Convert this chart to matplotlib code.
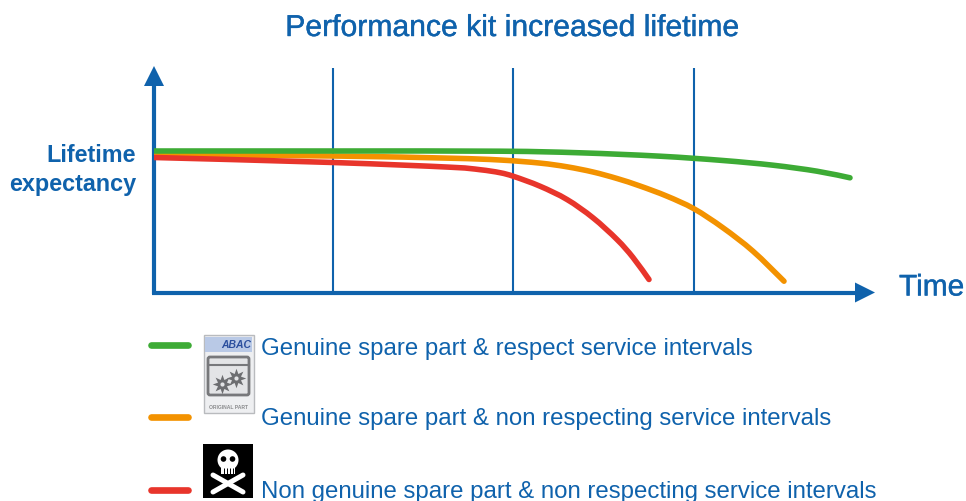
import numpy as np
import matplotlib.pyplot as plt
import matplotlib.patheffects as pe
from matplotlib.patches import Rectangle, Circle, FancyBboxPatch, PathPatch, Polygon
from matplotlib.path import Path

plt.rcParams['font.family'] = ['Liberation Sans', 'DejaVu Sans']

W, H = 966, 502
BLUE = "#0f62ac"

# curves (time, lifetime, in px from the axes origin)
green_t = [0, 179, 346, 426, 506, 569, 619, 663, 696]
green_l = [141.5, 141.5, 141.3, 139.7, 136.3, 132, 127.3, 121.3, 114.7]
orange_t = [0, 179, 296, 346, 386, 413, 439, 463, 486, 513, 540, 569, 599, 630]
orange_l = [138, 136.5, 134.3, 132.5, 129.4, 125.7, 120.5, 114, 106.5, 96.3, 83.7, 64.7, 41.3, 11.3]
red_t = [0, 179, 296, 326, 346, 360, 386, 413, 439, 463, 479, 495]
red_l = [135, 130, 125.3, 122.8, 119.8, 116, 106.3, 93, 74.7, 53, 35, 13]

gridlines = [179, 359, 540]

title = "Performance kit increased lifetime"
ylabel = "Lifetime\nexpectancy"
xlabel = "Time"
legend_labels = ["Genuine spare part & respect service intervals",
                 "Genuine spare part & non respecting service intervals",
                 "Non genuine spare part & non respecting service intervals"]
colors = ["#3dab35", "#f39200", "#e8352b"]


# smooth line through the read points (Catmull-Rom segments as beziers)
def smooth_path(t, l):
    p = np.column_stack([t, l])
    verts = [p[0]]
    codes = [Path.MOVETO]
    for i in range(len(p) - 1):
        a = p[max(i - 1, 0)]
        d = p[min(i + 2, len(p) - 1)]
        verts += [p[i] + (p[i + 1] - a) / 6, p[i + 1] - (d - p[i]) / 6, p[i + 1]]
        codes += [Path.CURVE4] * 3
    return Path(verts, codes)


fig = plt.figure(figsize=(W / 100, H / 100), dpi=100)

# page layer in pixels, for the legend and the pictograms
pg = fig.add_axes([0, 0, 1, 1])
pg.set_xlim(0, W)
pg.set_ylim(H, 0)
pg.axis("off")

# chart layer
x0, y0 = 154, 293.5
ax = fig.add_axes([x0 / W, (H - y0) / H, 700 / W, 225 / H])
ax.set_xlim(0, 700)
ax.set_ylim(0, 225)
ax.patch.set_alpha(0)
ax.axis("off")

for g in gridlines:
    ax.axvline(g, color=BLUE, lw=1.5, zorder=1)

for t, l, c, z in [(orange_t, orange_l, colors[1], 2), (red_t, red_l, colors[2], 3), (green_t, green_l, colors[0], 4)]:
    ax.add_patch(PathPatch(smooth_path(t, l), fc="none", ec=c, lw=4, capstyle="round", zorder=z))

# axes arrows
pg.plot([154, 154], [295, 85], color=BLUE, lw=3, solid_capstyle="butt", zorder=6)
pg.plot([152, 858], [293.5, 293.5], color=BLUE, lw=3, solid_capstyle="butt", zorder=6)
pg.add_patch(Polygon([(154, 67), (144, 87), (164, 87)], fc=BLUE, ec="none", zorder=6))
pg.add_patch(Polygon([(875, 293.5), (855, 283.5), (855, 303.5)], fc=BLUE, ec="none", zorder=6))

bolder = [pe.withStroke(linewidth=0.3, foreground=BLUE)]
pg.text(512, 29, title, color=BLUE, fontsize=21.7, ha="center", va="center", path_effects=bolder)
pg.text(136, 170, ylabel, color=BLUE, fontsize=16.8, ha="right", va="center", fontweight="bold", linespacing=1.36)
pg.text(899, 288.5, xlabel, color=BLUE, fontsize=21.5, ha="left", va="center", path_effects=bolder)

# legend
for yl, yt, c, lab in zip([345.5, 417.5, 490.5], [349, 419.5, 492.5], colors, legend_labels):
    pg.plot([151, 188], [yl, yl], color=c, lw=4.8, solid_capstyle="round")
    pg.text(261, yt, lab, color=BLUE, fontsize=17.3, ha="left", va="center")

# genuine part pictogram
pg.add_patch(Rectangle((203.5, 336), 50, 77.5, fc="#eeeff1", ec="#b9bbbe", lw=1))
pg.add_patch(Rectangle((205, 338), 47, 15, fc="#b9c9e6", ec="none"))
pg.text(236, 345.5, "ABAC", color="#2b4f9e", fontsize=7.5, fontweight="bold", style="italic", ha="center", va="center")
pg.add_patch(FancyBboxPatch((208, 358), 41, 38, boxstyle="round,pad=0,rounding_size=2", fc="#e3e4e6", ec="#77787b", lw=2))
pg.plot([208, 249], [366, 366], color="#77787b", lw=1.5)
pg.plot([222], [385], marker=(8, 1, 0), color="#6d6e71", ms=14, mew=0)
pg.plot([236], [379], marker=(8, 1, 0), color="#6d6e71", ms=14, mew=0)
pg.plot([222, 236], [385, 379], ls="none", marker="o", color="#e3e4e6", ms=3, mew=0)
pg.text(228.5, 408, "ORIGINAL PART", color="#8a8b8d", fontsize=3.6, fontweight="bold", ha="center", va="center")

# skull pictogram
pg.add_patch(Rectangle((203, 445), 50, 54, fc="black", ec="none"))
pg.plot([213, 243], [476, 493], color="white", lw=3.6, solid_capstyle="round")
pg.plot([243, 213], [476, 493], color="white", lw=3.6, solid_capstyle="round")
pg.add_patch(Circle((228, 461), 10.5, fc="white", ec="none", zorder=3))
pg.add_patch(Rectangle((221, 465), 14, 10, fc="white", ec="none", zorder=3))
pg.add_patch(Circle((223.5, 460), 2.8, fc="black", ec="none", zorder=4))
pg.add_patch(Circle((232.5, 460), 2.8, fc="black", ec="none", zorder=4))
pg.vlines([224, 227, 230, 233], 469, 475, color="black", lw=0.7, zorder=4)

fig.savefig("out.png", dpi=100)
